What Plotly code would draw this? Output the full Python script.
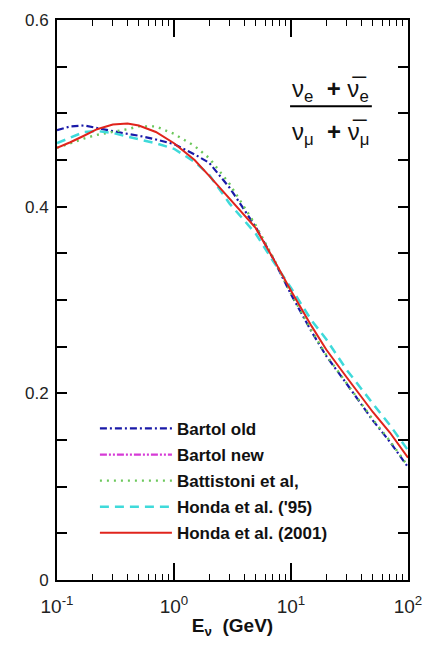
import plotly.graph_objects as go

energy = [0.1, 0.13, 0.17, 0.22, 0.3, 0.4, 0.5, 0.7, 1.0, 1.5, 2, 3, 5, 7, 10, 15, 20, 30, 50, 70, 100]

bartol_old = [0.482, 0.486, 0.487, 0.484, 0.481, 0.478, 0.476, 0.472, 0.467, 0.456, 0.447, 0.420, 0.378, 0.345, 0.306, 0.266, 0.240, 0.210, 0.171, 0.148, 0.121]
bartol_new_x = [None]
bartol_new = [None]
battistoni = [0.463, 0.468, 0.473, 0.477, 0.480, 0.483, 0.486, 0.486, 0.478, 0.465, 0.452, 0.424, 0.380, 0.346, 0.307, 0.267, 0.241, 0.211, 0.172, 0.149, 0.122]
honda_95 = [0.468, 0.474, 0.480, 0.481, 0.479, 0.475, 0.472, 0.468, 0.462, 0.448, 0.434, 0.403, 0.371, 0.342, 0.313, 0.278, 0.258, 0.225, 0.189, 0.166, 0.139]
honda_2001 = [0.463, 0.469, 0.476, 0.483, 0.488, 0.489, 0.487, 0.480, 0.468, 0.450, 0.433, 0.408, 0.377, 0.345, 0.310, 0.272, 0.247, 0.217, 0.180, 0.158, 0.131]

x_tickvals = [0.1, 1, 10, 100]
x_ticktext = ["10<sup>-1</sup>", "10<sup>0</sup>", "10<sup>1</sup>", "10<sup>2</sup>"]
x_minor = [m * d for d in (0.1, 1, 10) for m in range(2, 10)]
y_tickvals = [0, 0.2, 0.4, 0.6]
y_ticktext = ["0", "0.2", "0.4", "0.6"]

FONT = "Arial, Liberation Sans, sans-serif"

fig = go.Figure()
fig.add_trace(go.Scatter(x=energy, y=bartol_old, mode="lines", name="Bartol old",
                         line=dict(color="#1a1aa8", width=2.2, dash="7px,3px,2px,3px"),
                         legendgroup="a", legendrank=1))
fig.add_trace(go.Scatter(x=bartol_new_x, y=bartol_new, mode="lines", name="Bartol new",
                         line=dict(color="#d63ad6", width=2.2, dash="7px,2px,2px,2px,2px,2px"),
                         legendgroup="b", legendrank=2))
fig.add_trace(go.Scatter(x=energy, y=battistoni, mode="lines", name="Battistoni et al,",
                         line=dict(color="#6cc85c", width=2.4, dash="2px,5px"),
                         legendgroup="c", legendrank=3))
fig.add_trace(go.Scatter(x=energy, y=honda_95, mode="lines", name="Honda et al. ('95)",
                         line=dict(color="#3fdada", width=2.5, dash="9px,6px"),
                         legendgroup="d", legendrank=4))
fig.add_trace(go.Scatter(x=energy, y=honda_2001, mode="lines", name="Honda et al. (2001)",
                         line=dict(color="#e0241c", width=2),
                         legendgroup="e", legendrank=5))

fig.update_layout(
    width=433, height=647,
    margin=dict(l=57, r=25, t=20, b=67),
    paper_bgcolor="white", plot_bgcolor="white",
    font=dict(family=FONT, color="#111"),
    showlegend=True,
    legend=dict(x=0.108, y=0.302, xanchor="left", yanchor="top",
                font=dict(family=FONT, size=17, color="#111", weight="bold"),
                bgcolor="rgba(0,0,0,0)", tracegroupgap=1, itemwidth=72,
                traceorder="grouped"),
    xaxis=dict(type="log", range=[-1, 2],
               tickmode="array", tickvals=x_tickvals, ticktext=x_ticktext,
               ticks="inside", ticklen=17, tickwidth=1.5, tickcolor="black",
               minor=dict(tickmode="array", tickvals=x_minor, ticks="inside", ticklen=6,
                          tickwidth=1.3, tickcolor="black", showgrid=False),
               showline=True, linecolor="black", linewidth=2, mirror="ticks",
               showgrid=False, zeroline=False, ticklabelstandoff=8,
               tickfont=dict(size=19, color="#222"),
               title=dict(text="<b>E<sub>ν</sub>  (GeV)</b>", font=dict(size=19, color="#111"), standoff=3)),
    yaxis=dict(range=[0, 0.6], tickmode="array", tickvals=y_tickvals, ticktext=y_ticktext,
               ticks="inside", ticklen=10, tickwidth=1.5, tickcolor="black",
               minor=dict(dtick=0.05, ticks="inside", ticklen=10, tickwidth=1.5,
                          tickcolor="black", showgrid=False),
               showline=True, linecolor="black", linewidth=2, mirror="ticks",
               showgrid=False, zeroline=False, ticklabelstandoff=3,
               tickfont=dict(size=17, color="#222")),
)

fig.add_annotation(xref="paper", yref="paper", x=0.78, y=0.875, xanchor="center", yanchor="middle",
                   text="ν<sub>e</sub>  <b>+</b> ν\u0305<sub>e</sub>", showarrow=False,
                   font=dict(family=FONT, size=24, color="#111"))
fig.add_annotation(xref="paper", yref="paper", x=0.78, y=0.797, xanchor="center", yanchor="middle",
                   text="ν<sub>μ</sub>  <b>+</b> ν\u0305<sub>μ</sub>", showarrow=False,
                   font=dict(family=FONT, size=24, color="#111"))
fig.add_shape(type="line", xref="paper", yref="paper", x0=0.664, x1=0.897, y0=0.846, y1=0.846,
              line=dict(color="black", width=2))

fig.write_html("out.html")
